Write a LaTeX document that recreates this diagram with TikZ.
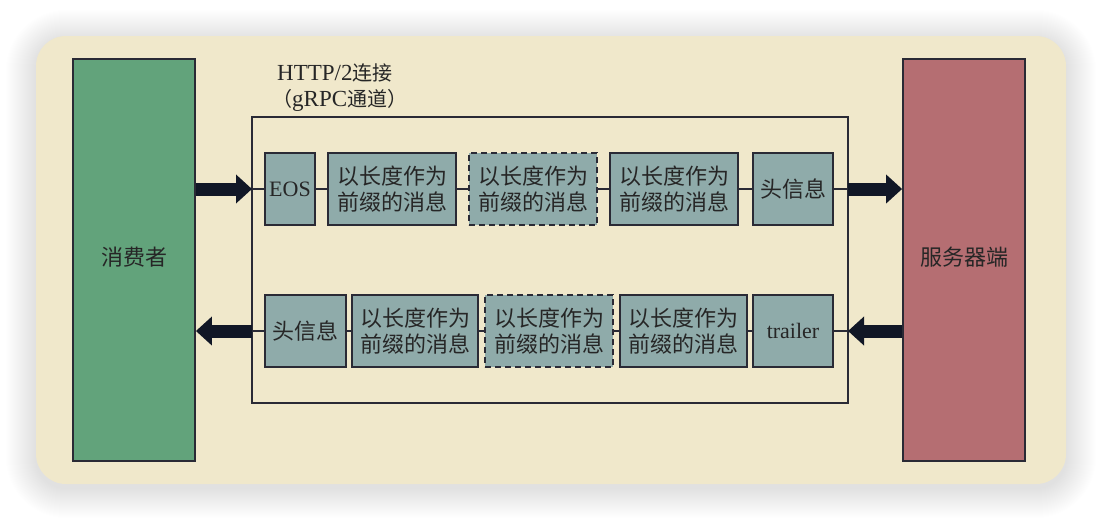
\documentclass[tikz,border=0pt]{standalone}
\usepackage{fontspec}
\setmainfont{Liberation Serif}
\newfontfamily\cjk{Noto Sans CJK SC}
\usetikzlibrary{arrows.meta}
\definecolor{cream}{HTML}{F0E8CB}
\definecolor{consumer}{HTML}{62A37B}
\definecolor{server}{HTML}{B56E72}
\definecolor{msgfill}{HTML}{8FABAA}
\definecolor{edge}{HTML}{2A2A35}
\definecolor{arrowc}{HTML}{111726}
\tikzset{
  msgbox/.style={draw=edge, line width=1.8pt, fill=msgfill, inner sep=0pt, align=center,
    font=\fontsize{22}{26}\selectfont\cjk, text=black!85},
  latbox/.style={msgbox, font=\fontsize{22}{26}\selectfont},
  dashbox/.style={msgbox, dashed, dash pattern=on 6pt off 4pt},
  endbox/.style={draw=edge, line width=1.8pt, inner sep=0pt},
  endlabel/.style={inner sep=0pt, font=\fontsize{22}{26}\selectfont\cjk, text=black!85},
  link/.style={draw=edge, line width=1.8pt},
  fat/.style={draw=arrowc, line width=13pt, -{Triangle[length=16pt,width=28pt]}},
}
\begin{document}
\begin{tikzpicture}[x=1pt,y=-1pt]
\useasboundingbox (0,0) rectangle (1102,520);
\fill[white] (0,0) rectangle (1102,520);
% soft shadow
\foreach \i in {1,...,30} {
  \pgfmathsetmacro{\rc}{30+\i}
  \fill[black, opacity=0.0045, rounded corners=\rc pt] ({36-\i},{40-\i}) rectangle ({1066+\i},{488+\i});
}
\fill[cream, rounded corners=30pt] (36,36) rectangle (1066,484);
% end boxes
\node[endbox, fill=consumer, minimum width=122pt, minimum height=402pt] (cons) at (134,260) {};
\node[endlabel] (consl) at ([yshift=3pt]cons.center) {消费者};
\node[endbox, fill=server, minimum width=122pt, minimum height=402pt] (serv) at (964,260) {};
\node[endlabel] (servl) at ([yshift=3pt]serv.center) {服务器端};
% connection
\node[draw=edge, line width=1.5pt, minimum width=596pt, minimum height=286pt, inner sep=0pt] (conn) at (550,260) {};
\node[anchor=west, inner sep=0pt, font=\fontsize{23}{28}\selectfont, text=black!85] (title1) at (277,73)
  {HTTP/2{\fontsize{20}{28}\selectfont\cjk 连接}};
\node[anchor=west, inner sep=0pt, font=\fontsize{23}{28}\selectfont, text=black!85] (title2) at (272,100)
  {{\fontsize{20}{28}\selectfont\cjk （}gRPC{\fontsize{20}{28}\selectfont\cjk 通道）}};
% top row
\node[latbox, minimum width=50pt, minimum height=72pt] (eos) at (290,189) {EOS};
\node[msgbox, minimum width=128pt, minimum height=72pt] (t1) at (392,189) {以长度作为\\前缀的消息};
\node[dashbox, minimum width=128pt, minimum height=72pt] (t2) at (533,189) {以长度作为\\前缀的消息};
\node[msgbox, minimum width=128pt, minimum height=72pt] (t3) at (674,189) {以长度作为\\前缀的消息};
\node[msgbox, minimum width=80pt, minimum height=72pt] (thd) at (793,189) {头信息};
\coordinate (tl) at (252,189);
\coordinate (tr) at (848,189);
\draw[link] (tl) -- (eos.west);
\draw[link] (eos) -- (t1);
\draw[link] (t1) -- (t2);
\draw[link] (t2) -- (t3);
\draw[link] (t3) -- (thd);
\draw[link] (thd.east) -- (tr);
\draw[fat] (cons.east |- tl) -- (tl);
\draw[fat] (tr) -- (serv.west |- tr);
% bottom row
\node[msgbox, minimum width=81pt, minimum height=72pt] (bhd) at (305.5,331) {头信息};
\node[msgbox, minimum width=126pt, minimum height=72pt] (b1) at (415,331) {以长度作为\\前缀的消息};
\node[dashbox, minimum width=128pt, minimum height=72pt] (b2) at (549,331) {以长度作为\\前缀的消息};
\node[msgbox, minimum width=127pt, minimum height=72pt] (b3) at (683.5,331) {以长度作为\\前缀的消息};
\node[latbox, minimum width=80pt, minimum height=72pt] (trl) at (793,331) {trailer};
\coordinate (bl) at (252,331);
\coordinate (br) at (848,331);
\draw[link] (bl) -- (bhd.west);
\draw[link] (bhd) -- (b1);
\draw[link] (b1) -- (b2);
\draw[link] (b2) -- (b3);
\draw[link] (b3) -- (trl);
\draw[link] (trl.east) -- (br);
\draw[fat] (bl) -- (cons.east |- bl);
\draw[fat] (serv.west |- br) -- (br);
\end{tikzpicture}
\end{document}
